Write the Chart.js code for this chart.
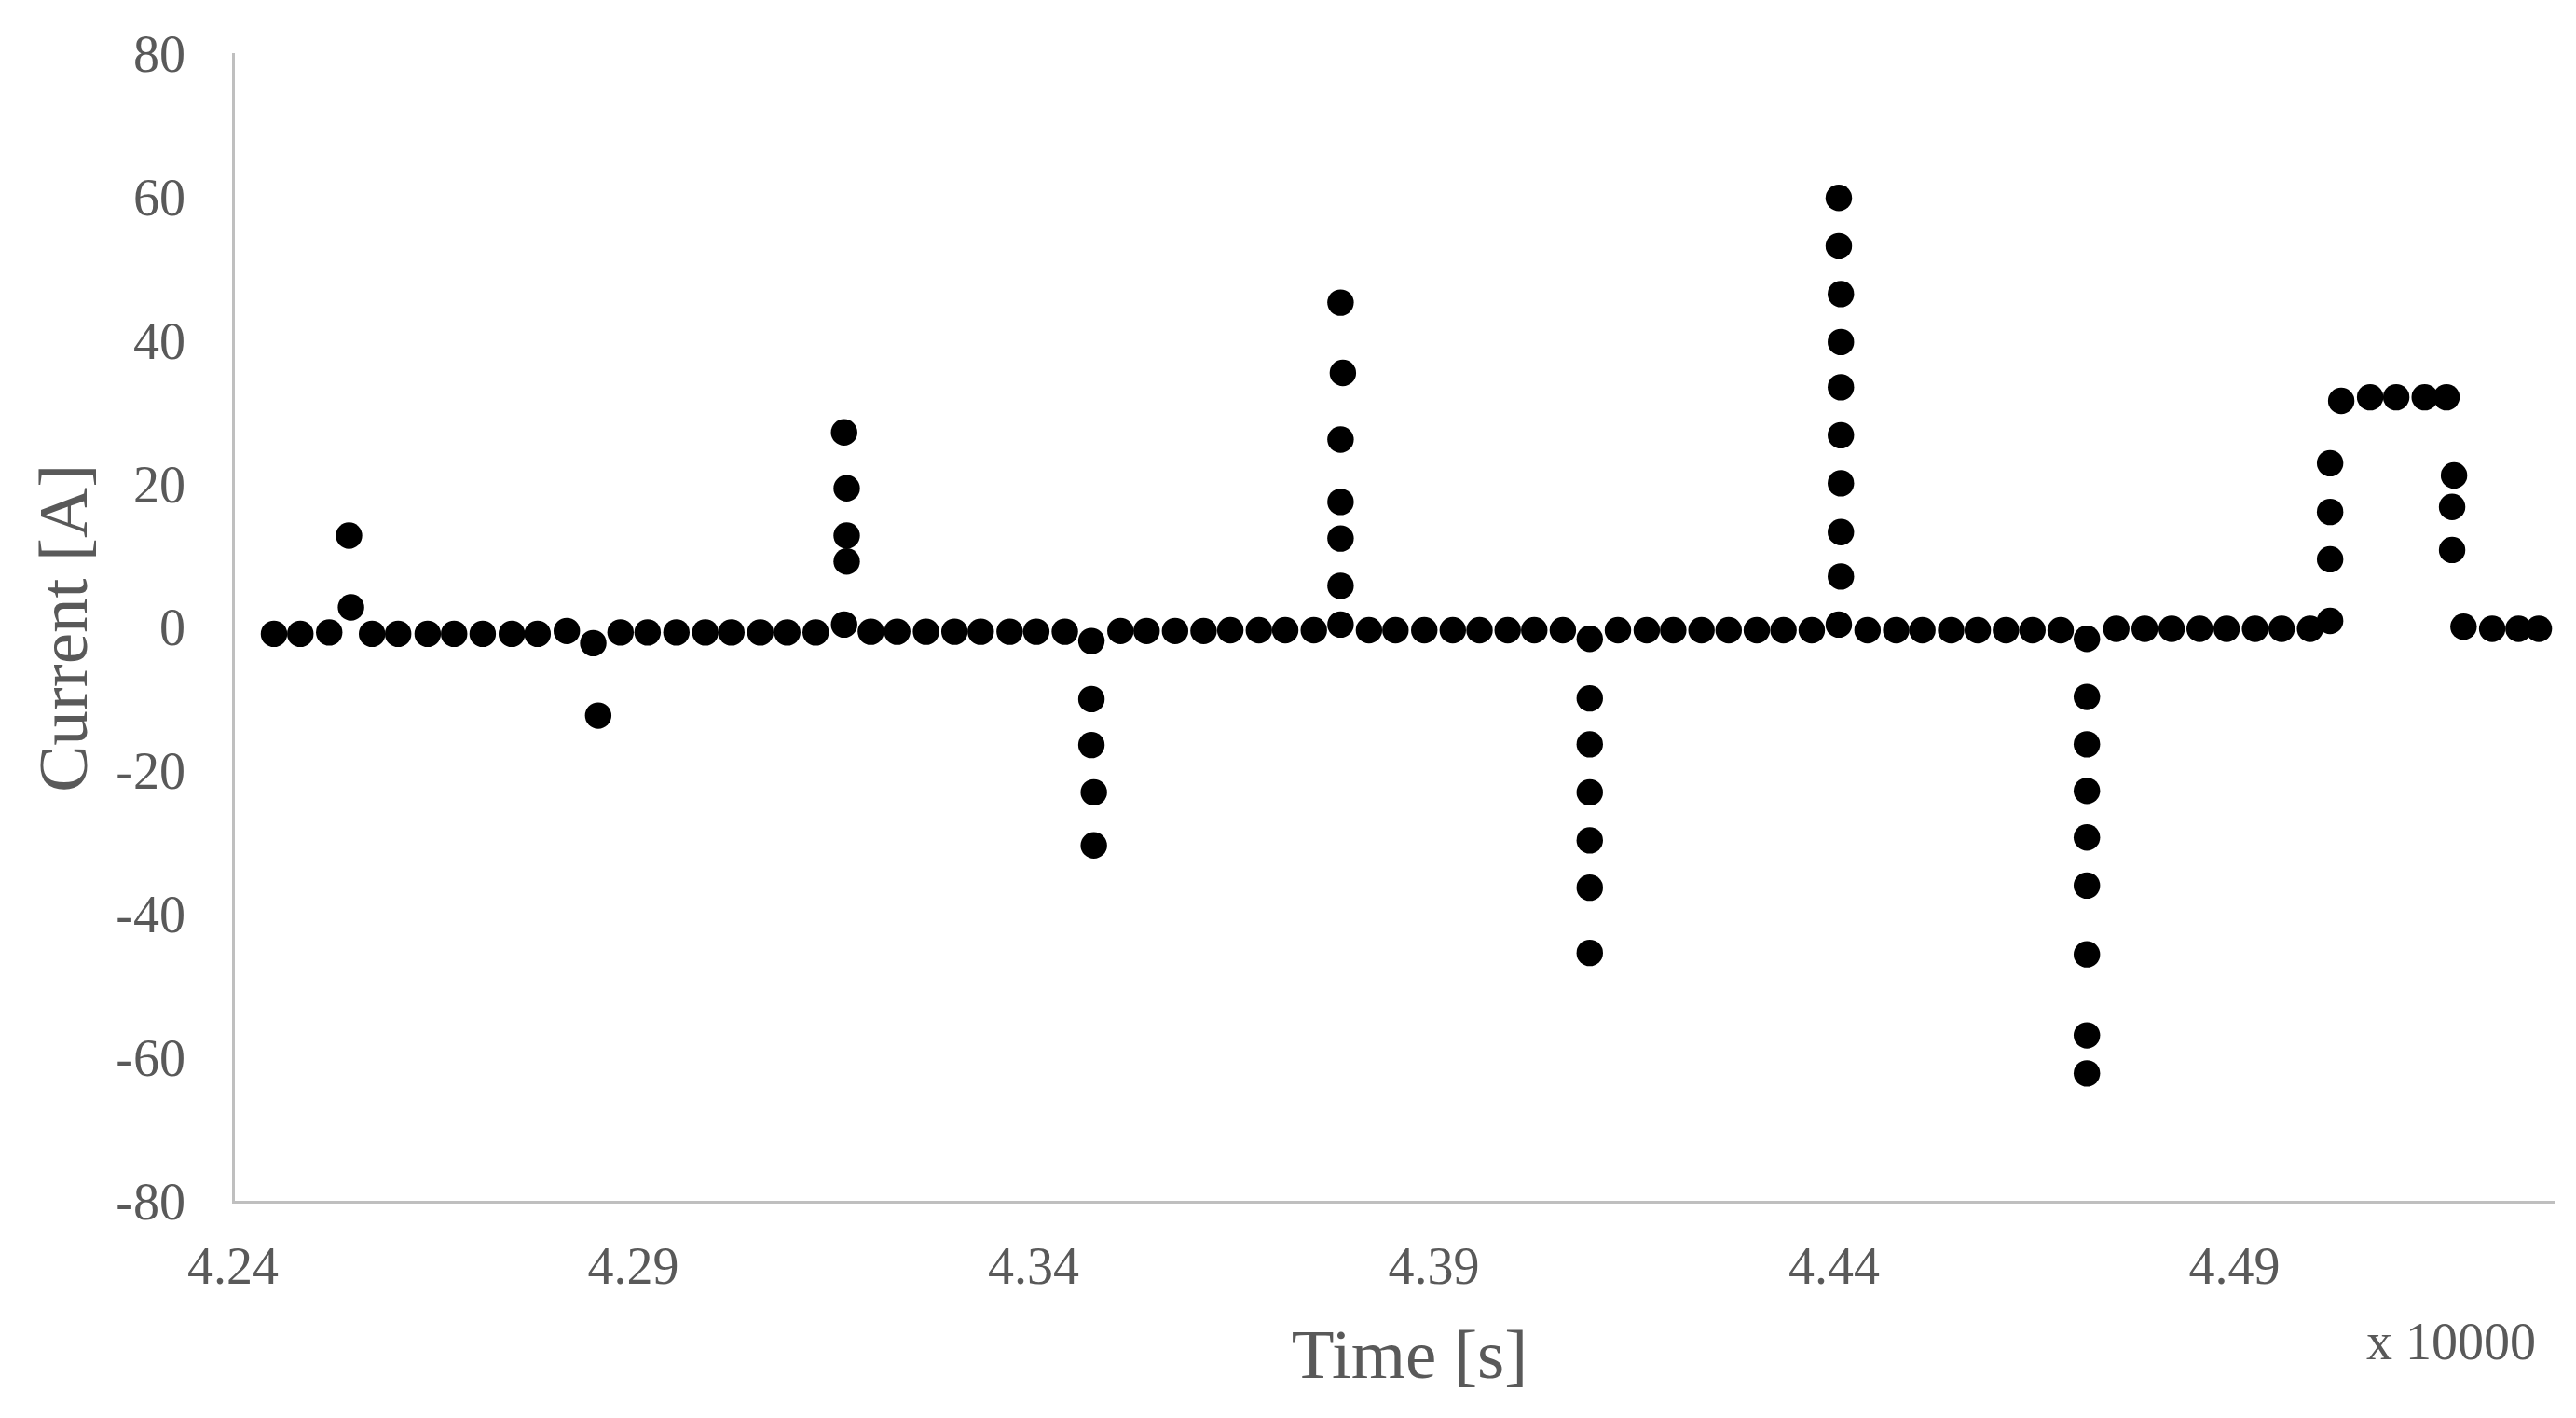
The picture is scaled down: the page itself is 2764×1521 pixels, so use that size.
<!DOCTYPE html>
<html>
<head>
<meta charset="utf-8">
<title>Current vs time</title>
<script src="https://cdn.jsdelivr.net/npm/chart.js@4.4.1/dist/chart.umd.min.js"></script>
<style>
  html, body { margin: 0; padding: 0; background: #fff; }
  #wrap { width: 2764px; height: 1521px; position: relative; }
</style>
</head>
<body>
<div id="wrap"><canvas id="chart"></canvas></div>
<script>
// Time axis values are in units of 10000 s (axis shows "x 10000")
const timeX10k = [
  4.24512, 4.24841, 4.25202, 4.25449, 4.25474, 4.25737, 4.26063, 4.26432, 4.26762, 4.27119,
  4.27483, 4.27805, 4.28170, 4.28500, 4.28562, 4.28841, 4.29179, 4.29539, 4.29900, 4.30226,
  4.30587, 4.30924, 4.31279, 4.31634, 4.31666, 4.31666, 4.31666, 4.31634, 4.31968, 4.32297,
  4.32657, 4.33013, 4.33340, 4.33702, 4.34034, 4.34391, 4.34723, 4.34723, 4.34723, 4.34753,
  4.34753, 4.35086, 4.35412, 4.35768, 4.36124, 4.36458, 4.36815, 4.37144, 4.37501, 4.37835,
  4.37835, 4.37835, 4.37835, 4.37835, 4.37864, 4.37835, 4.38190, 4.38521, 4.38881, 4.39237,
  4.39571, 4.39923, 4.40255, 4.40612, 4.40948, 4.40948, 4.40948, 4.40948, 4.40948, 4.40948,
  4.40948, 4.41300, 4.41660, 4.41991, 4.42344, 4.42683, 4.43035, 4.43368, 4.43721, 4.44059,
  4.44085, 4.44085, 4.44085, 4.44085, 4.44085, 4.44085, 4.44085, 4.44059, 4.44059, 4.44418,
  4.44776, 4.45103, 4.45462, 4.45795, 4.46147, 4.46478, 4.46830, 4.47158, 4.47158, 4.47158,
  4.47158, 4.47158, 4.47158, 4.47158, 4.47158, 4.47158, 4.47525, 4.47880, 4.48217, 4.48567,
  4.48904, 4.49259, 4.49591, 4.49946, 4.50196, 4.50196, 4.50196, 4.50196, 4.50335, 4.50696,
  4.51022, 4.51378, 4.51650, 4.51744, 4.51720, 4.51720, 4.51863, 4.52221, 4.52550, 4.52803
];
const currentA = [
  -0.8, -0.8, -0.6, 12.9, 2.9, -0.8, -0.8, -0.8, -0.8, -0.8,
  -0.8, -0.8, -0.4, -2.1, -12.2, -0.6, -0.6, -0.6, -0.6, -0.6,
  -0.6, -0.6, -0.6, 0.5, 9.3, 12.9, 19.5, 27.3, -0.5, -0.5,
  -0.5, -0.5, -0.5, -0.5, -0.5, -0.5, -1.8, -9.9, -16.3, -22.9,
  -30.3, -0.4, -0.4, -0.4, -0.4, -0.3, -0.3, -0.3, -0.3, 0.5,
  5.9, 12.5, 17.6, 26.3, 35.6, 45.4, -0.3, -0.3, -0.3, -0.3,
  -0.3, -0.3, -0.3, -0.3, -1.5, -9.8, -16.2, -22.9, -29.6, -36.2,
  -45.3, -0.3, -0.3, -0.3, -0.3, -0.3, -0.3, -0.3, -0.3, 0.5,
  7.2, 13.4, 20.2, 26.9, 33.6, 39.9, 46.6, 53.3, 60.0, -0.3,
  -0.3, -0.3, -0.3, -0.3, -0.3, -0.3, -0.3, -1.5, -9.6, -16.2,
  -22.7, -29.2, -35.9, -45.5, -56.8, -62.1, -0.1, -0.1, -0.1, -0.1,
  -0.1, -0.1, -0.1, -0.1, 1.0, 9.6, 16.2, 23.0, 31.7, 32.2,
  32.2, 32.2, 32.2, 21.3, 16.9, 10.9, 0.2, -0.1, -0.1, -0.1
];
const xTicks = [4.24, 4.29, 4.34, 4.39, 4.44, 4.49];
const yTicks = [-80, -60, -40, -20, 0, 20, 40, 60, 80];

const GREY_TEXT = '#595959';
const AXIS_LINE = '#bfbfbf';
Chart.defaults.font.family = '"Liberation Serif", "Times New Roman", serif';

// x-axis title and the "x 10000" multiplier note, placed like the original
const axisNotes = {
  id: 'axisNotes',
  afterDraw(chart) {
    const { ctx, chartArea } = chart;
    ctx.save();
    ctx.fillStyle = GREY_TEXT;
    ctx.textBaseline = 'alphabetic';
    ctx.font = '75px "Liberation Serif", serif';
    ctx.textAlign = 'center';
    ctx.fillText('Time [s]', (chartArea.left + chartArea.right) / 2 + 17, chartArea.bottom + 189);
    ctx.font = '56px "Liberation Serif", serif';
    ctx.textAlign = 'right';
    ctx.fillText('x 10000', chartArea.right - 20, chartArea.bottom + 169);
    ctx.restore();
  }
};

new Chart(document.getElementById('chart'), {
  type: 'scatter',
  data: {
    datasets: [{
      label: 'Current',
      data: timeX10k.map((t, i) => ({ x: t, y: currentA[i] })),
      backgroundColor: '#000',
      borderColor: '#000',
      borderWidth: 0,
      pointRadius: 14.2,
      pointHoverRadius: 14.2
    }]
  },
  options: {
    responsive: true,
    maintainAspectRatio: false,
    animation: false,
    events: [],
    layout: { padding: { left: 0, right: 23, top: 58.5, bottom: 0 } },
    plugins: { legend: { display: false }, tooltip: { enabled: false } },
    scales: {
      x: {
        type: 'linear',
        min: 4.24,
        max: 4.53,
        afterBuildTicks: s => { s.ticks = xTicks.map(v => ({ value: v })); },
        afterFit: s => { s.height = 232; s.paddingLeft = 0; s.paddingRight = 0; },
        grid: { display: false, drawTicks: false },
        border: { display: true, color: AXIS_LINE, width: 3 },
        ticks: {
          padding: 40,
          color: GREY_TEXT,
          font: { size: 56 },
          maxRotation: 0,
          callback: v => v.toFixed(2)
        }
      },
      y: {
        type: 'linear',
        min: -80,
        max: 80,
        afterBuildTicks: s => { s.ticks = yTicks.map(v => ({ value: v })); },
        // fixed axis box, so the plot area lines up with the original frame
        afterFit: s => { s.width = 250; s.paddingTop = 0; s.paddingBottom = 0; },
        grid: { display: false, drawTicks: false },
        border: { display: true, color: AXIS_LINE, width: 3 },
        ticks: {
          padding: 51,
          labelOffset: 4,
          color: GREY_TEXT,
          font: { size: 56 },
          callback: v => String(v)
        },
        title: {
          display: true,
          text: 'Current [A]',
          color: GREY_TEXT,
          font: { size: 75 },
          padding: { top: 28, bottom: 0 }
        }
      }
    }
  },
  plugins: [axisNotes]
});
</script>
</body>
</html>
